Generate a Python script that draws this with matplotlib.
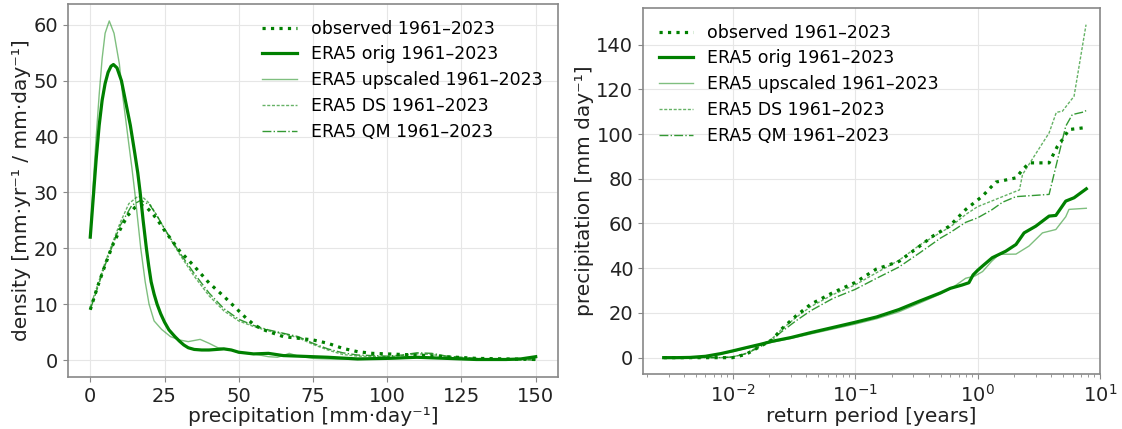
import matplotlib
matplotlib.use("Agg")
import matplotlib.pyplot as plt

# ---------------- density curves (left panel) ----------------
pr_obs = [0, 2.5, 5, 7.5, 10, 12.5, 15, 17, 19, 21, 23, 25, 27.5, 30, 32.5, 35, 37.5, 40,
          42.5, 45, 47.5, 50, 52.5, 55, 57.5, 60, 65, 70, 75, 80, 85, 90, 95, 100, 110,
          120, 130, 140, 150]
dens_obs = [9.0, 13.2, 17.0, 20.5, 23.3, 25.8, 27.3, 27.8, 27.3, 26.2, 24.8, 23.2, 21.4,
            19.6, 18.2, 16.8, 15.3, 13.8, 12.6, 11.4, 10.1, 8.8, 7.5, 6.4, 5.6, 5.1, 4.2,
            3.9, 3.6, 3.0, 2.1, 1.5, 1.2, 1.1, 0.9, 0.6, 0.3, 0.2, 0.1]

pr_orig = [0, 1, 2, 3, 4, 5, 6, 7, 7.8, 9, 10.5, 12, 13.5, 15, 16, 16.8, 17.8, 18.9, 19.7,
           20.5, 21.5, 22.5, 23.7, 25, 26.5, 28.5, 30, 31.5, 33, 35, 37.5, 40, 42.5, 45,
           47.5, 50, 55, 60, 65, 70, 80, 90, 100, 110, 120, 130, 140, 145, 150]
dens_orig = [22.0, 29.0, 36.0, 42.0, 46.5, 49.5, 51.5, 52.6, 52.9, 52.3, 50.0, 46.0, 42.0,
             37.0, 33.5, 30.0, 25.0, 20.0, 16.8, 14.0, 11.8, 10.0, 8.3, 6.8, 5.4, 4.2,
             3.4, 2.7, 2.2, 1.9, 1.8, 1.8, 1.9, 2.0, 1.8, 1.4, 1.1, 1.2, 0.8, 0.7, 0.5,
             0.2, 0.3, 0.5, 0.3, 0.1, 0.1, 0.2, 0.6]

pr_up = [0, 1, 2, 3, 4, 5, 6.4, 8, 9.8, 11, 12.9, 14, 15, 16, 17, 18.5, 19.8, 21.5, 24,
         27, 30, 33, 35, 37, 40, 43, 47, 50, 55, 60, 63, 65, 67, 70, 75, 80, 90, 100, 110,
         120, 130, 140, 150]
dens_up = [22.0, 31.5, 40.0, 47.5, 54.0, 58.5, 60.7, 58.5, 53.0, 47.0, 39.0, 34.5, 30.0,
           25.0, 20.0, 14.0, 10.0, 7.0, 5.5, 4.2, 3.6, 3.3, 3.5, 3.7, 3.0, 2.2, 1.9, 1.3,
           1.1, 0.6, 0.5, 0.8, 1.2, 0.7, 0.3, 0.2, 0.1, 0.2, 0.4, 0.3, 0.1, 0.0, 0.4]

pr_ds = [0, 5, 10, 13, 16, 18, 20, 22.5, 25, 27.5, 30, 35, 40, 45, 50, 55, 60, 65, 70, 75,
         80, 85, 90, 100, 105, 110, 115, 120, 130, 140, 150]
dens_ds = [9.5, 17.5, 24.5, 28.0, 29.3, 29.0, 28.0, 25.8, 23.5, 21.2, 19.0, 15.0, 11.5,
           8.8, 7.0, 6.0, 5.2, 4.7, 4.0, 2.8, 1.8, 1.0, 0.7, 0.6, 0.8, 1.1, 1.0, 0.5,
           0.2, 0.1, 0.2]

pr_qm = [0, 5, 10, 14, 17, 20, 22.5, 25, 27.5, 30, 35, 40, 45, 50, 55, 60, 65, 70, 75,
         80, 85, 90, 100, 105, 110, 115, 120, 130, 140, 150]
dens_qm = [9.0, 17.0, 24.0, 27.7, 28.6, 27.8, 25.8, 23.5, 21.4, 19.3, 15.5, 12.0, 9.2,
           7.3, 6.2, 5.4, 4.8, 4.2, 3.0, 2.0, 1.3, 0.9, 0.7, 0.9, 1.3, 1.2, 0.7, 0.3,
           0.1, 0.0]

# ---------------- return levels (right panel) ----------------
rp_obs = [0.00274, 0.005, 0.01, 0.0129, 0.017, 0.021, 0.025, 0.033, 0.0435, 0.066, 0.1,
          0.149, 0.228, 0.34, 0.43, 0.589, 0.803, 1.096, 1.41, 2.06, 2.33, 2.64, 3.84,
          4.49, 4.93, 5.58, 7.41, 7.73]
pr_obs_rl = [0, 0, 0, 1.5, 5.2, 7.9, 12.7, 18.7, 23.9, 29.1, 33.6, 39.6, 43.0, 50.0,
             54.3, 58.8, 66.3, 72.2, 78.5, 80.4, 84.0, 87.1, 87.1, 94.5, 97.5, 102.0,
             102.8, 103.0]

rp_orig = [0.00274, 0.0035, 0.0045, 0.006, 0.008, 0.01, 0.013, 0.017, 0.021, 0.03, 0.0435,
           0.066, 0.1, 0.15, 0.228, 0.34, 0.5, 0.6, 0.75, 0.85, 0.92, 1.0, 1.1, 1.32, 1.7,
           2.06, 2.4, 2.99, 3.84, 4.36, 5.25, 6.14, 7.73]
pr_orig_rl = [0, 0, 0.1, 0.6, 1.8, 3.0, 4.5, 6.0, 7.3, 9.0, 11.2, 13.5, 15.8, 18.2, 21.5,
              25.4, 29.0, 31.0, 32.5, 33.5, 37.0, 39.0, 41.0, 44.7, 47.6, 50.6, 55.8, 58.8,
              63.3, 63.6, 70.0, 71.5, 75.5]

rp_up = [0.00274, 0.0035, 0.0045, 0.006, 0.008, 0.01, 0.013, 0.017, 0.021, 0.03, 0.0435,
         0.066, 0.1, 0.15, 0.228, 0.34, 0.5, 0.65, 0.8, 0.95, 1.1, 1.3, 1.5, 2.06, 2.63,
         3.39, 4.36, 5.25, 5.58, 7.73]
pr_up_rl = [0, 0, 0.1, 0.5, 1.6, 2.7, 4.2, 5.6, 6.9, 8.6, 10.6, 12.8, 15.0, 17.4, 20.5,
            24.5, 28.5, 32.0, 35.5, 36.5, 38.5, 43.0, 46.2, 46.3, 49.9, 55.8, 57.3, 63.0,
            66.3, 66.8]

rp_ds = [0.00274, 0.005, 0.008, 0.01, 0.013, 0.017, 0.021, 0.025, 0.033, 0.0435, 0.066,
         0.1, 0.15, 0.228, 0.34, 0.5, 0.6, 0.8, 1.0, 1.3, 1.6, 2.06, 2.2, 2.33, 3.84, 4.4,
         4.93, 6.14, 7.69]
pr_ds_rl = [0, 0, 0, 0.3, 2.0, 5.5, 8.5, 12.5, 18.0, 22.8, 28.2, 32.5, 38.0, 43.5, 50.5,
            56.0, 58.5, 64.0, 67.5, 70.0, 72.0, 74.4, 75.0, 81.9, 100.5, 109.7, 110.2,
            116.9, 148.9]

rp_qm = [0.00274, 0.005, 0.008, 0.01, 0.013, 0.017, 0.021, 0.025, 0.033, 0.0435, 0.066,
         0.1, 0.15, 0.228, 0.34, 0.5, 0.6, 0.8, 1.0, 1.3, 1.6, 2.06, 3.0, 3.84, 5.25, 5.94,
         7.41, 7.7]
pr_qm_rl = [0, 0, 0, 0.3, 1.8, 5.0, 8.0, 11.5, 16.5, 21.0, 26.5, 30.5, 35.5, 40.5, 47.0,
            53.5, 56.0, 60.5, 62.5, 66.0, 69.5, 72.0, 72.6, 73.0, 103.5, 108.7, 109.9,
            110.5]

labels = ["observed 1961\u20132023", "ERA5 orig 1961\u20132023",
          "ERA5 upscaled 1961\u20132023", "ERA5 DS 1961\u20132023",
          "ERA5 QM 1961\u20132023"]

GREEN = "#008000"
styles = [
    dict(color=GREEN, ls=":", lw=2.3),
    dict(color=GREEN, ls="-", lw=2.3),
    dict(color=GREEN, ls="-", lw=1.0, alpha=0.5),
    dict(color=GREEN, ls=(0, (2.2, 1.2)), lw=1.0, alpha=0.6),
    dict(color=GREEN, ls="-.", lw=1.0, alpha=0.8),
]

plt.rcParams.update({
    "font.family": "DejaVu Sans",
    "axes.edgecolor": "#888888",
    "axes.linewidth": 1.2,
    "xtick.color": "#888888",
    "ytick.color": "#888888",
    "xtick.labelcolor": "#222222",
    "ytick.labelcolor": "#222222",
    "xtick.labelsize": 14,
    "ytick.labelsize": 14,
    "axes.labelsize": 14.5,
    "axes.labelcolor": "#222222",
})

fig = plt.figure(figsize=(11.22, 4.29), dpi=100)
ax1 = fig.add_axes([0.0606, 0.1212, 0.4367, 0.8695])
ax2 = fig.add_axes([0.5731, 0.1275, 0.4073, 0.8538])

left_series = [(pr_obs, dens_obs), (pr_orig, dens_orig), (pr_up, dens_up),
               (pr_ds, dens_ds), (pr_qm, dens_qm)]
for (x, y), lab, st in zip(left_series, labels, styles):
    ax1.plot(x, y, label=lab, **st)
ax1.set_xticks([0, 25, 50, 75, 100, 125, 150])
ax1.set_yticks([0, 10, 20, 30, 40, 50, 60])
ax1.set_xlabel("precipitation [mm\u00b7day\u207b\u00b9]", labelpad=1)
ax1.set_ylabel("density [mm\u00b7yr\u207b\u00b9 / mm\u00b7day\u207b\u00b9]", labelpad=2)
ax1.grid(True, color="#e6e6e6", lw=0.8)
ax1.set_axisbelow(True)
ax1.legend(loc="upper right", frameon=False, fontsize=12.5,
           borderaxespad=0.5, labelspacing=0.45)

right_series = [(rp_obs, pr_obs_rl), (rp_orig, pr_orig_rl), (rp_up, pr_up_rl),
                (rp_ds, pr_ds_rl), (rp_qm, pr_qm_rl)]
for (x, y), lab, st in zip(right_series, labels, styles):
    ax2.plot(x, y, label=lab, **st)
ax2.set_xscale("log")
ax2.set_xlim(10 ** -2.731, 10)
ax2.set_yticks([0, 20, 40, 60, 80, 100, 120, 140])
ax2.set_xlabel("return period [years]", labelpad=1)
ax2.set_ylabel("precipitation [mm day\u207b\u00b9]", labelpad=2)
ax2.grid(True, which="major", color="#e6e6e6", lw=0.8)
ax2.set_axisbelow(True)
ax2.legend(loc="upper left", frameon=False, fontsize=12.5,
           borderaxespad=0.5, labelspacing=0.45)

fig.savefig("out.png", dpi=100)
